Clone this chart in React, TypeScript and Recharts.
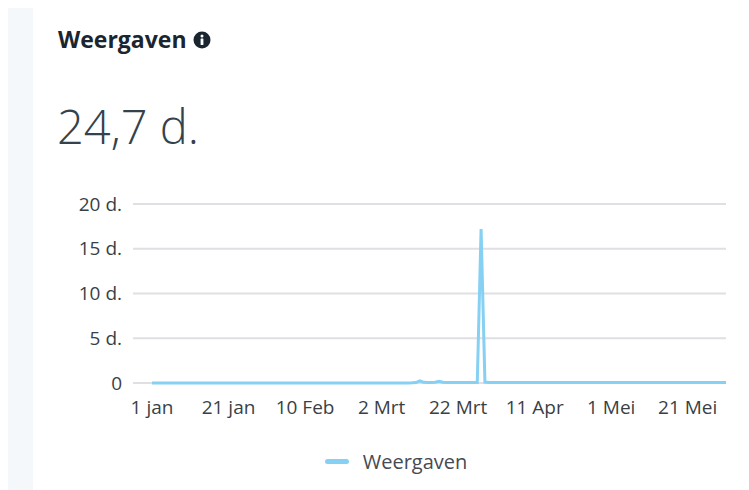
import { LineChart, Line, XAxis, YAxis, CartesianGrid, Legend } from "recharts";

// days since 1 jan, one point per day up to 31 mei
const tickDays = [0, 20, 40, 60, 80, 100, 120, 140];
const tickLabels = ["1 jan", "21 jan", "10 Feb", "2 Mrt", "22 Mrt", "11 Apr", "1 Mei", "21 Mei"];
const yTicks = [0, 5, 10, 15, 20];

// weergaven in days (d.)
const views = [
  0, 0, 0, 0, 0, 0, 0, 0, 0, 0,
  0, 0, 0, 0, 0, 0, 0, 0, 0, 0,
  0, 0, 0, 0, 0, 0, 0, 0, 0, 0,
  0, 0, 0, 0, 0, 0, 0, 0, 0, 0,
  0, 0, 0, 0, 0, 0, 0, 0, 0, 0,
  0, 0, 0, 0, 0, 0, 0, 0, 0, 0,
  0, 0, 0, 0, 0, 0, 0, 0, 0.02, 0.05,
  0.25, 0.08, 0.05, 0.05, 0.08, 0.18, 0.08, 0.05, 0.05, 0.05,
  0.05, 0.05, 0.05, 0.05, 0.05, 0.05, 17.2, 0.1, 0.05, 0.05,
  0.05, 0.05, 0.05, 0.05, 0.05, 0.05, 0.05, 0.05, 0.05, 0.05,
  0.05, 0.05, 0.05, 0.05, 0.05, 0.05, 0.05, 0.05, 0.05, 0.05,
  0.05, 0.05, 0.05, 0.05, 0.05, 0.05, 0.05, 0.05, 0.05, 0.05,
  0.05, 0.05, 0.05, 0.05, 0.05, 0.05, 0.05, 0.05, 0.05, 0.05,
  0.05, 0.05, 0.05, 0.05, 0.05, 0.05, 0.05, 0.05, 0.05, 0.05,
  0.05, 0.05, 0.05, 0.05, 0.05, 0.05, 0.05, 0.05, 0.05, 0.05,
  0.05,
];

const data = views.map((v, i) => ({ day: i, Weergaven: v }));

const FONT = "'Open Sans', 'Noto Sans', sans-serif";
const LINE = "#86d0f3";

const renderLegend = () => (
  <div
    style={{
      display: "flex",
      justifyContent: "center",
      alignItems: "center",
      fontFamily: FONT,
      transform: "translateX(29px)",
    }}
  >
    <span style={{ width: 24, height: 5, borderRadius: 3, background: LINE, marginRight: 14 }} />
    <span style={{ fontSize: 20, color: "#454b52" }}>Weergaven</span>
  </div>
);

export default function App() {
  return (
    <div style={{ position: "relative", width: 741, height: 482, background: "#fff", fontFamily: FONT }}>
      <div style={{ position: "absolute", left: 0, top: 0, width: 25, height: 482, background: "#f5f8fb" }} />
      <div
        style={{
          position: "absolute",
          left: 50,
          top: 20,
          fontSize: 23,
          lineHeight: "23px",
          fontWeight: 700,
          color: "#1a2530",
          display: "flex",
          alignItems: "center",
        }}
      >
        Weergaven
        <svg width="18" height="18" viewBox="0 0 18 18" style={{ marginLeft: 6 }}>
          <circle cx="9" cy="9" r="8.5" fill="#1a2530" />
          <circle cx="9" cy="5" r="1.5" fill="#fff" />
          <rect x="7.6" y="7.5" width="2.8" height="6.5" rx="0.6" fill="#fff" />
        </svg>
      </div>
      <div
        style={{
          position: "absolute",
          left: 49,
          top: 94,
          fontSize: 47,
          lineHeight: "48px",
          fontWeight: 300,
          color: "#34424d",
        }}
      >
        24,7 d.
      </div>
      <div style={{ position: "absolute", left: 0, top: 180 }}>
        <LineChart width={741} height={290} data={data} margin={{ top: 16, right: 23, left: 0, bottom: 3 }}>
          <CartesianGrid vertical={false} stroke="#dfdfe4" strokeWidth={2} />
          <XAxis
            dataKey="day"
            type="number"
            domain={[0, 150]}
            ticks={tickDays}
            tickFormatter={(d: number) => tickLabels[tickDays.indexOf(d)]}
            axisLine={false}
            tickLine={false}
            padding={{ left: 19, right: 0 }}
            height={65}
            tick={{ fill: "#3a3f45", fontSize: 19 }}
            tickMargin={12}
            interval={0}
          />
          <YAxis
            domain={[0, 20]}
            ticks={yTicks}
            tickFormatter={(v: number) => (v === 0 ? "0" : `${v} d.`)}
            axisLine={false}
            tickLine={false}
            width={125}
            tick={{ fill: "#3a3f45", fontSize: 19 }}
            tickMargin={5}
          />
          <Legend verticalAlign="bottom" content={renderLegend} />
          <Line
            type="linear"
            dataKey="Weergaven"
            stroke={LINE}
            strokeWidth={3}
            dot={false}
            isAnimationActive={false}
          />
        </LineChart>
      </div>
    </div>
  );
}
